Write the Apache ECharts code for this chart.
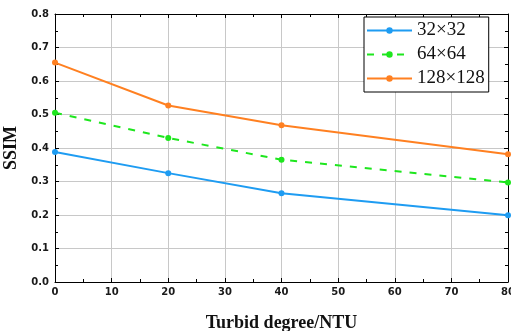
<!DOCTYPE html>
<html>
<head>
<meta charset="utf-8">
<script src="https://cdn.jsdelivr.net/npm/echarts@6/dist/echarts.min.js"></script>
<style>
  html, body { margin: 0; padding: 0; background: #fff; }
  #chart { width: 511px; height: 331px; }
</style>
</head>
<body>
<div id="chart"></div>
<script>
// Turbidity levels (NTU) and SSIM for each patch size
const turbidity = [0, 20, 40, 80];
const ssim32 = [0.388, 0.325, 0.265, 0.199];
const ssim64 = [0.505, 0.430, 0.365, 0.297];
const ssim128 = [0.655, 0.527, 0.468, 0.381];
const seriesNames = ['32×32', '64×64', '128×128'];

const colors = ['#1e9cf2', '#1ee61e', '#ff8021'];
const pairs = (ys) => turbidity.map((x, i) => [x, ys[i]]);

const tickFont = { fontFamily: 'DejaVu Sans, sans-serif', fontWeight: 'bold', fontSize: 10, color: '#1a1a1a' };
const nameFont = { fontFamily: 'Liberation Serif, Times New Roman, serif', fontWeight: 'bold', fontSize: 18, color: '#111' };

const chart = echarts.init(document.getElementById('chart'), null, { renderer: 'canvas' });

function makeSeries(name, ys, color, dashed) {
  return {
    name: name,
    type: 'line',
    data: pairs(ys),
    symbol: 'circle',
    symbolSize: 6,
    lineStyle: { color: color, width: 2, type: dashed ? [7, 8] : 'solid' },
    itemStyle: { color: color },
    animation: false,
    z: 3
  };
}

// Frame axes: the line stays on its own side, ticks point into the plot
function frameTicks() {
  return {
    axisLine: { show: true, onZero: false, lineStyle: { color: '#000', width: 1 } },
    axisTick: { show: true, inside: true, length: 4, lineStyle: { color: '#000' } },
    minorTick: { show: true, splitNumber: 2, length: 3, lineStyle: { color: '#000' } }
  };
}

chart.setOption({
  backgroundColor: '#fff',
  animation: false,
  grid: { left: 55, right: 3, top: 14, bottom: 49, containLabel: false, outerBoundsMode: 'none' },
  legend: {
    orient: 'vertical',
    left: 364,
    top: 17,
    data: seriesNames,
    itemWidth: 45,
    itemHeight: 8,
    itemGap: 5,
    padding: [4, 4, 4, 2],
    backgroundColor: '#fff',
    borderColor: '#000',
    borderWidth: 1,
    textStyle: { fontFamily: 'Liberation Serif, Times New Roman, serif', fontSize: 19, color: '#111' },
    z: 10
  },
  xAxis: [Object.assign({
    type: 'value',
    min: 0,
    max: 80,
    interval: 10,
    name: 'Turbid degree/NTU',
    nameLocation: 'middle',
    nameGap: 32,
    nameTextStyle: nameFont,
    axisLabel: Object.assign({ margin: 5, showMaxLabel: true }, tickFont),
    splitLine: { show: true, lineStyle: { color: '#c8c8c8', width: 1 } }
  }, frameTicks()), Object.assign({
    type: 'value',
    position: 'top',
    min: 0,
    max: 80,
    interval: 10,
    axisLabel: { show: false },
    splitLine: { show: false }
  }, frameTicks())],
  yAxis: [Object.assign({
    type: 'value',
    min: 0,
    max: 0.8,
    interval: 0.1,
    name: 'SSIM',
    nameLocation: 'middle',
    nameGap: 27,
    nameTextStyle: nameFont,
    axisLabel: Object.assign({ margin: 6, formatter: (v) => v.toFixed(1) }, tickFont),
    splitLine: { show: true, lineStyle: { color: '#c8c8c8', width: 1 } }
  }, frameTicks()), Object.assign({
    type: 'value',
    position: 'right',
    min: 0,
    max: 0.8,
    interval: 0.1,
    axisLabel: { show: false },
    splitLine: { show: false }
  }, frameTicks())],
  series: [
    makeSeries(seriesNames[0], ssim32, colors[0], false),
    makeSeries(seriesNames[1], ssim64, colors[1], true),
    makeSeries(seriesNames[2], ssim128, colors[2], false)
  ]
});
</script>
</body>
</html>
